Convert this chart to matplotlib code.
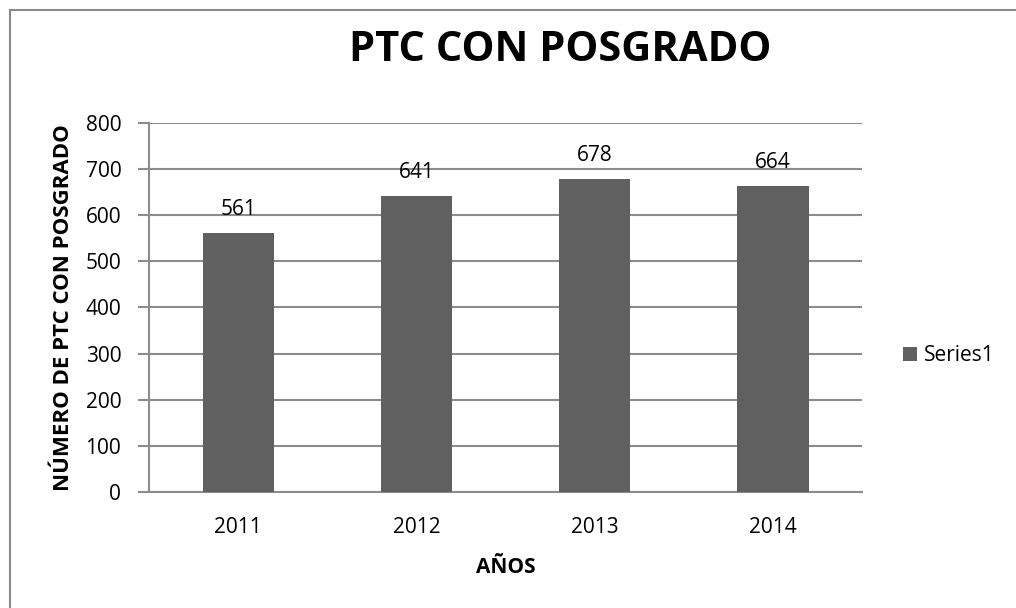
import matplotlib.pyplot as plt
from matplotlib.lines import Line2D

years = ["2011", "2012", "2013", "2014"]
ptc = [561, 641, 678, 664]
y_ticks = [0, 100, 200, 300, 400, 500, 600, 700, 800]

plt.rcParams['font.family'] = ['Open Sans', 'DejaVu Sans']

bar_color = "#606060"
grid_color = "#8c8c8c"

fig = plt.figure(figsize=(10.16, 6.08), dpi=100)
ax = fig.add_axes([0.1467, 0.1908, 0.7017, 0.6069])

x = range(len(years))
bars = ax.bar(x, ptc, width=0.4, color=bar_color, label="Series1", zorder=3)
for i, v in enumerate(ptc):
    ax.text(i, v + 28, str(v), ha="center", va="bottom", fontsize=15)

ax.set_xlim(-0.5, len(years) - 0.5)
ax.set_ylim(0, 800)
ax.set_yticks(y_ticks)
ax.set_xticks(list(x))
ax.set_xticklabels(years)
ax.tick_params(axis="y", length=8, width=1.5, color=grid_color, labelsize=15, pad=12)
ax.tick_params(axis="x", length=0, labelsize=15, pad=18)
ax.yaxis.grid(True, color=grid_color, linewidth=1.5, zorder=0)

for s in ["top", "right"]:
    ax.spines[s].set_visible(False)
ax.spines["left"].set_color(grid_color)
ax.spines["left"].set_linewidth(1.5)
ax.spines["bottom"].set_color(grid_color)
ax.spines["bottom"].set_linewidth(1.5)

ax.set_xlabel("AÑOS", fontsize=15, fontweight="bold", labelpad=14)
ax.set_ylabel("NÚMERO DE PTC CON POSGRADO", fontsize=16, fontweight="bold", labelpad=8)

fig.text(0.551, 0.917, "PTC CON POSGRADO", ha="center", va="center",
         fontsize=30, fontweight="bold")

fig.legend(handles=[bars], labels=["Series1"], loc="center left",
           bbox_to_anchor=(0.87, 0.415), frameon=False, fontsize=15,
           handlelength=0.7, handleheight=0.7, handletextpad=0.3)

# chart frame edges (top and left)
fig.add_artist(Line2D([0.0094, 0.0094], [0, 0.983], transform=fig.transFigure,
                      color="#8a8a8a", linewidth=1.5))
fig.add_artist(Line2D([0.0094, 1.0], [0.983, 0.983], transform=fig.transFigure,
                      color="#8a8a8a", linewidth=1.5))

fig.savefig("out.png", dpi=100)
